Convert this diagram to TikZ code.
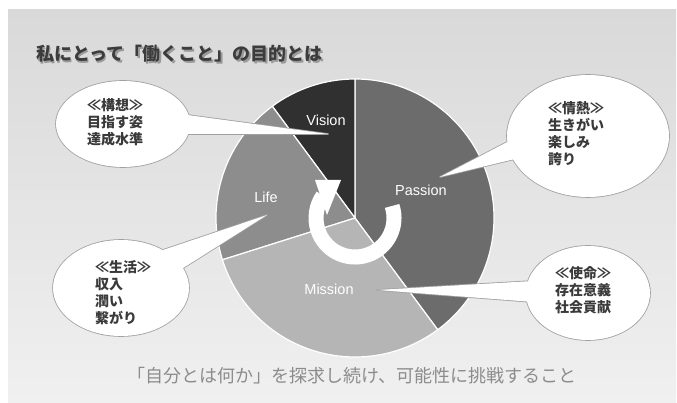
\documentclass[tikz,border=0pt]{standalone}
\usepackage{fontspec}
\setmainfont{Liberation Sans}
\newfontfamily\jp{Noto Sans CJK JP}
\definecolor{bgtop}{HTML}{D9D9D9}
\definecolor{bgbot}{HTML}{F0F0F0}
\definecolor{cvision}{HTML}{303030}
\definecolor{cpassion}{HTML}{6C6C6C}
\definecolor{clife}{HTML}{8D8D8D}
\definecolor{cmission}{HTML}{B5B5B5}
\definecolor{bubedge}{HTML}{A0A0A0}
\definecolor{txt}{HTML}{3A3A3A}
\definecolor{titlec}{HTML}{3C3C3C}
\definecolor{shadowc}{HTML}{9A9A9A}
\definecolor{footc}{HTML}{8C8C8C}
\tikzset{
  slice/.style={draw=white, line width=1.2pt, line join=round},
  pl/.style={text=white, font=\fontsize{14.5}{17}\selectfont, inner sep=0pt},
  bt/.style={text=txt, font=\jp\bfseries\fontsize{14}{17}\selectfont, align=left, anchor=west, inner sep=0pt},
  bubstroke/.style={draw=bubedge, line width=1.6pt, line join=round},
}
\begin{document}
\begin{tikzpicture}[x=1pt,y=-1pt]
\useasboundingbox (0,0) rectangle (677,403);
\fill[white] (0,0) rectangle (677,403);
\shade[top color=bgtop, bottom color=bgbot] (8,10) rectangle (676,403);

% title
\node[anchor=west, font=\jp\bfseries\fontsize{18}{20}\selectfont, text=shadowc, inner sep=0pt] (titleshadow) at (37.3,55.5) {私にとって「働くこと」の目的とは};
\node[anchor=west, font=\jp\bfseries\fontsize{18}{20}\selectfont, text=titlec, inner sep=0pt] (title) at (36,54) {私にとって「働くこと」の目的とは};

% pie
\coordinate (C) at (355,218);
\filldraw[slice, fill=cpassion] (C) -- ++(-90:139) arc[start angle=-90, end angle=53.5, radius=139] -- cycle;
\filldraw[slice, fill=cvision] (C) -- ++(-126.5:139) arc[start angle=-126.5, end angle=-90, radius=139] -- cycle;
\filldraw[slice, fill=clife] (C) -- ++(-197.5:139) arc[start angle=-197.5, end angle=-126.5, radius=139] -- cycle;
\filldraw[slice, fill=cmission] (C) -- ++(-306.5:139) arc[start angle=-306.5, end angle=-197.5, radius=139] -- cycle;

% circular arrow
\draw[white, line width=15pt] (C) ++(-18:39) arc[start angle=-18, end angle=215, radius=39];
\fill[white] (315,180) -- (341,180) -- (327,215) -- cycle;

% slice labels
\node[pl] (vision) at (326,120) {Vision};
\node[pl] (passion) at (421,190) {Passion};
\node[pl] (life) at (266,197) {Life};
\node[pl] (mission) at (329,289) {Mission};

% bubble outlines
\path[bubstroke] (123,124) ellipse[x radius=67, y radius=43];
\path[bubstroke] (180,114) -- (328,134) -- (183,134) -- cycle;
\path[bubstroke] (588,136) ellipse[x radius=81, y radius=61];
\path[bubstroke] (515,138) -- (440,177) -- (519,158) -- cycle;
\path[bubstroke] (121,288) ellipse[x radius=68, y radius=48];
\path[bubstroke] (163,250) -- (267,215) -- (180,270) -- cycle;
\path[bubstroke] (588,293) ellipse[x radius=62, y radius=47];
\path[bubstroke] (533,281) -- (377,290) -- (533,302) -- cycle;
% bubble fills
\fill[white] (123,124) ellipse[x radius=67, y radius=43];
\fill[white] (180,114) -- (328,134) -- (183,134) -- cycle;
\fill[white] (588,136) ellipse[x radius=81, y radius=61];
\fill[white] (515,138) -- (440,177) -- (519,158) -- cycle;
\fill[white] (121,288) ellipse[x radius=68, y radius=48];
\fill[white] (163,250) -- (267,215) -- (180,270) -- cycle;
\fill[white] (588,293) ellipse[x radius=62, y radius=47];
\fill[white] (533,281) -- (377,290) -- (533,302) -- cycle;

% bubble texts
\node[bt] (kousou) at (87,122) {≪構想≫\\目指す姿\\達成水準};
\node[bt] (jounetsu) at (548,134) {≪情熱≫\\生きがい\\楽しみ\\誇り};
\node[bt] (seikatsu) at (95,293) {≪生活≫\\収入\\潤い\\繋がり};
\node[bt] (shimei) at (555,290) {≪使命≫\\存在意義\\社会貢献};

% footer
\node[font=\jp\fontsize{18}{20}\selectfont, text=footc, inner sep=0pt] (foot) at (352,376) {「自分とは何か」を探求し続け、可能性に挑戦すること};
\end{tikzpicture}
\end{document}
